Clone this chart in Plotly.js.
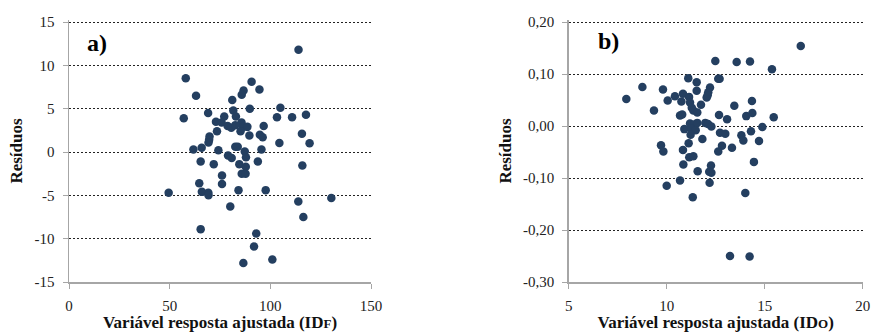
<!DOCTYPE html>
<html>
<head>
<meta charset="utf-8">
<script src="https://cdn.plot.ly/plotly-3.0.1.min.js"></script>
<style>
html,body{margin:0;padding:0;background:#fff;}
#chart{width:872px;height:335px;}
</style>
</head>
<body>
<div id="chart"></div>
<script>
// Panel a) – fitted IDF vs residuals
const fittedA = [114, 58, 90.7, 94.6, 86.7, 85.8, 63.1, 81.1, 89.8, 105.0, 81.6, 57.0, 69.1, 82.9, 77.1, 103.3, 110.8, 117.7, 73.0, 75.8, 85.7, 86.4, 96.7, 78.8, 80.6, 82.6, 88.6, 85.2, 73.5, 69.8, 69.6, 69.3, 89.6, 94.8, 96.2, 115.7, 104.5, 119.5, 61.8, 65.9, 74.2, 82.6, 83.8, 87.3, 95.6, 79.0, 80.8, 87.9, 65.4, 71.9, 84.6, 93.8, 87.8, 115.9, 76.0, 85.8, 87.7, 64.7, 76.0, 49.5, 66.0, 69.2, 69.3, 84.2, 97.7, 113.9, 130.3, 80.1, 116.4, 65.4, 93.0, 91.9, 101.0, 86.6];
const residA = [11.8, 8.5, 8.1, 7.2, 7.1, 6.6, 6.5, 6.0, 5.0, 5.1, 4.8, 3.9, 4.5, 4.1, 4.1, 4.0, 4.0, 4.3, 3.5, 3.4, 3.4, 2.9, 3.0, 3.0, 2.8, 3.1, 2.9, 2.4, 2.4, 1.8, 1.4, 1.1, 1.9, 2.0, 1.7, 2.1, 1.05, 1.0, 0.3, 0.5, 0.2, 0.6, 0.6, 0.05, 0.3, -0.4, -0.7, -0.6, -1.1, -1.4, -1.4, -1.1, -1.7, -1.55, -2.7, -2.5, -2.5, -3.6, -3.7, -4.7, -4.6, -4.7, -5.0, -4.4, -4.4, -5.7, -5.3, -6.3, -7.5, -8.9, -9.4, -10.9, -12.4, -12.8];

// Panel b) – fitted IDO vs residuals
const fittedB = [16.84, 12.48, 13.57, 14.25, 15.37, 11.10, 12.63, 12.70, 11.53, 8.76, 9.81, 11.53, 12.21, 12.12, 10.42, 10.83, 11.14, 10.05, 10.75, 12.04, 12.09, 11.19, 14.35, 13.45, 11.75, 11.28, 9.35, 11.36, 11.56, 10.68, 10.79, 12.67, 13.08, 14.06, 14.37, 14.88, 11.19, 11.40, 11.56, 11.97, 12.11, 12.28, 10.90, 11.24, 11.48, 11.22, 11.82, 12.72, 12.99, 13.81, 14.30, 14.71, 13.91, 11.12, 9.71, 9.83, 10.83, 12.82, 12.63, 13.33, 11.15, 11.36, 14.45, 10.85, 12.26, 11.58, 12.17, 12.28, 10.68, 10.00, 12.19, 14.01, 11.33, 13.23, 14.23, 7.94, 15.46];
const residB = [0.154, 0.125, 0.123, 0.124, 0.109, 0.092, 0.091, 0.091, 0.084, 0.075, 0.070, 0.068, 0.074, 0.065, 0.057, 0.062, 0.056, 0.049, 0.047, 0.055, 0.059, 0.045, 0.048, 0.039, 0.041, 0.035, 0.030, 0.030, 0.026, 0.020, 0.022, 0.021, 0.013, 0.019, 0.025, -0.002, 0.005, 0.003, 0.006, 0.006, 0.004, -0.001, -0.006, -0.005, -0.008, -0.017, -0.025, -0.013, -0.015, -0.018, -0.010, -0.029, -0.028, -0.033, -0.037, -0.049, -0.046, -0.038, -0.049, -0.042, -0.060, -0.058, -0.069, -0.074, -0.076, -0.087, -0.088, -0.090, -0.105, -0.115, -0.109, -0.129, -0.137, -0.250, -0.251, 0.052, 0.017];

// Tick labels
const xTicksA = [0, 50, 100, 150];
const xTickTextA = ["0", "50", "100", "150"];
const yTicksA = [-15, -10, -5, 0, 5, 10, 15];
const yTickTextA = ["-15", "-10", "-5", "0", "5", "10", "15"];
const xTicksB = [5, 10, 15, 20];
const xTickTextB = ["5", "10", "15", "20"];
const yTicksB = [-0.30, -0.20, -0.10, 0.00, 0.10, 0.20];
const yTickTextB = ["-0,30", "-0,20", "-0,10", "0,00", "0,10", "0,20"];

const serif = "'Liberation Serif'";
const dotColor = "#243f60";
const axisGray = "#a6a6a6";

const traces = [
  {x: fittedA, y: residA, type: "scatter", mode: "markers", xaxis: "x", yaxis: "y",
   marker: {color: dotColor, size: 8.5}, hoverinfo: "x+y", showlegend: false},
  {x: fittedB, y: residB, type: "scatter", mode: "markers", xaxis: "x2", yaxis: "y2",
   marker: {color: dotColor, size: 8.5}, hoverinfo: "x+y", showlegend: false}
];

function xAx(domain, range, vals, text, anchor, titleHtml) {
  return {
    domain: domain, range: range, anchor: anchor,
    tickvals: vals, ticktext: text, ticks: "outside", ticklen: 5, tickcolor: axisGray, tickwidth: 1,
    showline: true, linecolor: axisGray, linewidth: 1.5, showgrid: false, zeroline: false,
    ticklabelstandoff: 4,
    tickfont: {family: serif, size: 15, color: "#222"},
    title: {text: titleHtml, font: {family: serif, size: 17, color: "#111"}, standoff: 3}
  };
}
function yAx(domain, range, vals, text, anchor, standoff) {
  return {
    domain: domain, range: range, anchor: anchor,
    tickvals: vals, ticktext: text, ticks: "outside", ticklen: 5, tickcolor: axisGray, tickwidth: 1,
    showline: true, linecolor: axisGray, linewidth: 1.5,
    showgrid: true, gridcolor: "#222", griddash: "2px,2px", gridwidth: 1, zeroline: false,
    ticklabelstandoff: 5,
    tickfont: {family: serif, size: 15, color: "#222"},
    title: {text: "<b>Resíduos</b>", font: {family: serif, size: 17, color: "#111"}, standoff: standoff}
  };
}

// plot area: bottom at y=282px, top extended to 20px so the top gridline (at 22px) is kept
const yDom = [(335 - 282) / 335, (335 - 20) / 335];

const layout = {
  width: 872, height: 335,
  margin: {l: 0, r: 0, t: 0, b: 0},
  paper_bgcolor: "#fff", plot_bgcolor: "#fff",
  showlegend: false,
  xaxis: xAx([69 / 872, 371 / 872], [0, 150], xTicksA, xTickTextA, "y",
    "<b>Variável resposta ajustada (ID<span style=\"font-size:13px\">F</span>)</b>"),
  yaxis: yAx(yDom, [-15, 15 + 2 * 30 / 260], yTicksA, yTickTextA, "x", 7),
  xaxis2: xAx([568.7 / 872, 862.7 / 872], [5, 20], xTicksB, xTickTextB, "y2",
    "<b>Variável resposta ajustada (ID<span style=\"font-size:13px\">O</span>)</b>"),
  yaxis2: yAx(yDom, [-0.30, 0.20 + 2 * 0.5 / 260], yTicksB, yTickTextB, "x2", 7),
  annotations: [
    {text: "<b>a)</b>", x: 97 / 872, y: 1 - 43 / 335, xref: "paper", yref: "paper",
     showarrow: false, xanchor: "center", yanchor: "middle", font: {family: serif, size: 24, color: "#000"}},
    {text: "<b>b)</b>", x: 608.5 / 872, y: 1 - 41 / 335, xref: "paper", yref: "paper",
     showarrow: false, xanchor: "center", yanchor: "middle", font: {family: serif, size: 24, color: "#000"}}
  ]
};

Plotly.newPlot("chart", traces, layout, {staticPlot: true, displayModeBar: false});
</script>
</body>
</html>
